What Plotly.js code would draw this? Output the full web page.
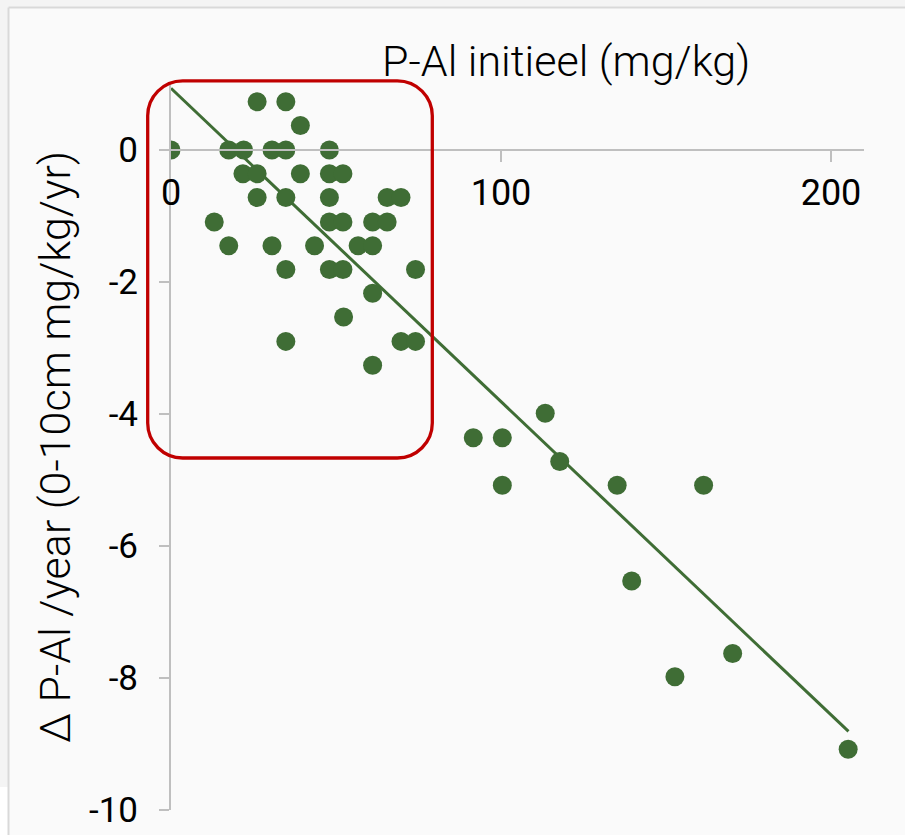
<!DOCTYPE html>
<html>
<head>
<meta charset="utf-8">
<script src="https://cdn.plot.ly/plotly-3.0.1.min.js"></script>
<style>
html,body{margin:0;padding:0;background:#F4F4F4;}
#chart{width:905px;height:835px;}
</style>
</head>
<body>
<div id="chart"></div>
<script>
// ---- data ----
var pAlInitial = [
  0, 26.1, 34.8, 39.2,
  17.5, 22.0, 30.6, 34.8, 48.0,
  21.8, 26.1, 39.2, 48.0, 52.1,
  26.1, 34.8, 48.0, 65.5, 69.7,
  13.1, 48.0, 52.1, 61.1, 65.5,
  17.5, 30.6, 43.5, 56.7, 61.1,
  34.8, 48.0, 52.1, 74.1,
  61.1, 52.3, 34.8, 69.7, 74.1, 61.1,
  91.6, 100.4, 113.4, 117.8, 100.4, 135.2, 161.4, 139.6, 170.2, 152.7, 205.2
];
var deltaPAl = [
  0, 0.73, 0.73, 0.37,
  0, 0, 0, 0, 0,
  -0.36, -0.36, -0.36, -0.36, -0.36,
  -0.72, -0.72, -0.72, -0.72, -0.72,
  -1.09, -1.09, -1.09, -1.09, -1.09,
  -1.45, -1.45, -1.45, -1.45, -1.45,
  -1.81, -1.81, -1.81, -1.81,
  -2.17, -2.53, -2.90, -2.90, -2.90, -3.26,
  -4.36, -4.36, -3.99, -4.72, -5.08, -5.08, -5.08, -6.53, -7.63, -7.98, -9.08
];
var trendX = [0, 205.3];
var trendY = [0.935, -8.81];
var xTickVals = [0, 100, 200];
var xTickText = ['0', '100', '200'];
var yTickVals = [-10, -8, -6, -4, -2, 0];
var yTickText = ['-10', '-8', '-6', '-4', '-2', '0'];
var xTitle = 'P-Al initieel (mg/kg)';
var yTitle = '\u0394 P-Al /year (0-10cm mg/kg/yr)';

// ---- layout geometry ----
var W = 905, H = 835;
var M = {l: 171, r: 41, t: 84, b: 25};
var plotW = W - M.l - M.r, plotH = H - M.t - M.b;
function px2x(px){ return (px - M.l) / plotW; }
function py2y(py){ return (H - M.b - py) / plotH; }

var green = '#3F6D35';
var axisGray = '#BFBFBF';
var titleFont = {size: 43, weight: 300, color: '#000', family: '"Roboto Light", Roboto, Arial, sans-serif'};

// rounded rectangle (highlight box) in paper coords
function roundRect(x0p, y0p, x1p, y1p, r){
  var k = 0.5523;
  var L = px2x(x0p), R = px2x(x1p), T = py2y(y0p), B = py2y(y1p);
  var rx = r / plotW, ry = r / plotH;
  var p = [];
  p.push('M', L + rx, T);
  p.push('L', R - rx, T);
  p.push('C', R - rx + k*rx, T, R, T - ry + k*ry, R, T - ry);
  p.push('L', R, B + ry);
  p.push('C', R, B + ry - k*ry, R - rx + k*rx, B, R - rx, B);
  p.push('L', L + rx, B);
  p.push('C', L + rx - k*rx, B, L, B + ry - k*ry, L, B + ry);
  p.push('L', L, T - ry);
  p.push('C', L, T - ry + k*ry, L + rx - k*rx, T, L + rx, T);
  p.push('Z');
  return p.join(' ');
}

var traces = [
  {
    type: 'scatter', mode: 'lines', x: trendX, y: trendY,
    line: {color: green, width: 3}, hoverinfo: 'skip', showlegend: false
  },
  {
    type: 'scatter', mode: 'markers', x: pAlInitial, y: deltaPAl,
    marker: {color: green, size: 19, line: {width: 0}}, showlegend: false
  }
];

var layout = {
  width: W, height: H,
  margin: M,
  paper_bgcolor: '#FAFAFA',
  plot_bgcolor: 'rgba(0,0,0,0)',
  font: {family: 'Roboto, Arial, sans-serif', color: '#000'},
  showlegend: false,
  xaxis: {
    range: [0, 210],
    anchor: 'free',
    position: py2y(150),
    side: 'top',
    showline: true, linecolor: axisGray, linewidth: 2,
    ticks: 'inside', ticklen: 11, tickwidth: 2, tickcolor: axisGray,
    ticklabelposition: 'inside',
    ticklabeloverflow: 'allow',
    ticklabelstandoff: 22,
    tickmode: 'array', tickvals: xTickVals, ticktext: xTickText,
    tickfont: {size: 36, color: '#000', family: 'Roboto, Arial, sans-serif'},
    showgrid: false, zeroline: false
  },
  yaxis: {
    range: [-10, 1],
    showline: true, linecolor: axisGray, linewidth: 2,
    ticks: 'outside', ticklen: 10, tickwidth: 2, tickcolor: axisGray,
    tickmode: 'array', tickvals: yTickVals, ticktext: yTickText,
    tickfont: {size: 35, color: '#000', family: 'Roboto, Arial, sans-serif'},
    ticklabelstandoff: 14,
    showgrid: false, zeroline: false,
    title: {text: yTitle, standoff: 5, font: titleFont}
  },
  annotations: [
    {text: xTitle, xref: 'paper', yref: 'paper', x: px2x(566), y: py2y(61),
     xanchor: 'center', yanchor: 'middle', showarrow: false, font: titleFont}
  ],
  shapes: [
    // outer page strips and frame
    {type: 'rect', xref: 'paper', yref: 'paper', layer: 'below',
     x0: px2x(0), x1: px2x(8), y0: py2y(H), y1: py2y(0),
     fillcolor: '#F4F4F4', line: {width: 0}},
    {type: 'rect', xref: 'paper', yref: 'paper', layer: 'below',
     x0: px2x(0), x1: px2x(W), y0: py2y(7), y1: py2y(0),
     fillcolor: '#F4F4F4', line: {width: 0}},
    {type: 'rect', xref: 'paper', yref: 'paper', layer: 'below',
     x0: px2x(0), x1: px2x(8), y0: py2y(H), y1: py2y(787),
     fillcolor: '#FFFFFF', line: {width: 0}},
    {type: 'line', xref: 'paper', yref: 'paper', layer: 'below',
     x0: px2x(8.5), x1: px2x(8.5), y0: py2y(H), y1: py2y(7.5),
     line: {color: '#D9D9D9', width: 2}},
    {type: 'line', xref: 'paper', yref: 'paper', layer: 'below',
     x0: px2x(8.5), x1: px2x(W), y0: py2y(7.5), y1: py2y(7.5),
     line: {color: '#D9D9D9', width: 2}},
    // red highlight box
    {type: 'path', xref: 'paper', yref: 'paper', layer: 'above',
     path: roundRect(147.7, 80.8, 432.3, 458, 35),
     line: {color: '#C00000', width: 3.3}, fillcolor: 'rgba(0,0,0,0)'}
  ]
};

Plotly.newPlot('chart', traces, layout, {staticPlot: true, displayModeBar: false});
</script>
</body>
</html>
